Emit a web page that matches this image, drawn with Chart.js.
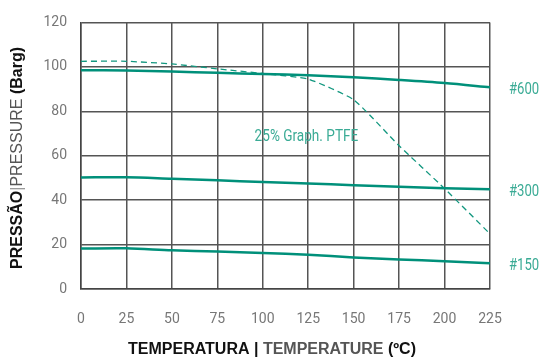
<!DOCTYPE html>
<html>
<head>
<meta charset="utf-8">
<script src="https://cdn.jsdelivr.net/npm/chart.js@4"></script>
<style>
  html, body { margin: 0; padding: 0; background: #fff; }
  #wrap { width: 541px; height: 358px; }
</style>
</head>
<body>
<div id="wrap"><canvas id="myChart" width="541" height="358"></canvas></div>
<script>
// temperatures (ºC) and pressures (Barg)
var temps = [0, 25, 50, 75, 100, 125, 150, 175, 200, 225];
var class600 = [98.5, 98.4, 97.9, 97.3, 96.8, 96.2, 95.3, 94.1, 92.7, 90.8];
var class300 = [50.2, 50.3, 49.6, 48.9, 48.2, 47.5, 46.7, 46.0, 45.3, 44.9];
var class150 = [18.2, 18.3, 17.4, 16.9, 16.2, 15.4, 14.2, 13.3, 12.5, 11.6];
var ptfe = [102.5, 102.5, 101.3, 99.1, 97.0, 94.5, 85.2, 64.5, 45.2, 24.8];
var seriesLabels = ["#600", "#300", "#150"];
var ptfeLabel = "25% Graph. PTFE";
var yTicks = [0, 20, 40, 60, 80, 100, 120];

var lineColor = "#00907a";
var labelColor = "#3aab95";
var tickFont = "Roboto, sans-serif";

function pts(vals) {
    return temps.map(function (t, i) { return { x: t, y: vals[i] }; });
}

// text drawn squeezed sideways, to look like the condensed face of the original
function narrowText(ctx, text, x, y, squeeze) {
    ctx.save();
    ctx.translate(x, y);
    ctx.scale(squeeze, 1);
    ctx.fillText(text, 0, 0);
    ctx.restore();
}

function drawParts(ctx, parts, x, y) {
    var total = 0;
    parts.forEach(function (p) {
        ctx.font = p.font;
        total += ctx.measureText(p.text).width;
    });
    var cx = x - total / 2;
    parts.forEach(function (p) {
        ctx.font = p.font;
        ctx.fillStyle = p.color;
        ctx.fillText(p.text, cx, y);
        cx += ctx.measureText(p.text).width;
    });
}

var labelsPlugin = {
    id: "labels",
    afterDraw: function (chart) {
        var ctx = chart.ctx;
        var xs = chart.scales.x, ys = chart.scales.y;
        ctx.save();
        ctx.textBaseline = "middle";
        ctx.textAlign = "left";
        // class labels at the right end of each line
        ctx.font = "16px Roboto, sans-serif";
        ctx.fillStyle = labelColor;
        var ends = [class600, class300, class150];
        ends.forEach(function (vals, i) {
            var y = ys.getPixelForValue(vals[vals.length - 1]);
            narrowText(ctx, seriesLabels[i], xs.right + 19, y + 3, 0.82);
        });
        narrowText(ctx, ptfeLabel, xs.getPixelForValue(95.5), ys.getPixelForValue(68.3), 0.85);

        // axis titles
        var boldF = "bold 16px 'Liberation Sans', Arial, sans-serif";
        var normF = "16px 'Liberation Sans', Arial, sans-serif";
        drawParts(ctx, [
            { text: "TEMPERATURA | ", font: boldF, color: "#111" },
            { text: "TEMPERATURE", font: boldF, color: "#555" },
            { text: " (ºC)", font: boldF, color: "#111" }
        ], 272, 350);

        ctx.translate(18, 158);
        ctx.rotate(-Math.PI / 2);
        drawParts(ctx, [
            { text: "PRESSÃO", font: boldF, color: "#111" },
            { text: "|", font: normF, color: "#999" },
            { text: "PRESSURE", font: normF, color: "#555" },
            { text: " (Barg)", font: boldF, color: "#111" }
        ], 0, 0);
        ctx.restore();
    }
};

var chart = new Chart("myChart", {
    type: "line",
    data: {
        datasets: [
            { data: pts(class600), borderColor: lineColor, borderWidth: 2.5, pointRadius: 0, tension: 0.3 },
            { data: pts(class300), borderColor: lineColor, borderWidth: 2.5, pointRadius: 0, tension: 0.3 },
            { data: pts(class150), borderColor: lineColor, borderWidth: 2.5, pointRadius: 0, tension: 0.3 },
            { data: pts(ptfe), borderColor: "#12977f", borderWidth: 1.3, borderDash: [6, 4], pointRadius: 0, tension: 0.15 }
        ]
    },
    options: {
        responsive: false,
        animation: false,
        layout: { padding: { top: 17, right: 51, left: 0, bottom: 0 } },
        plugins: { legend: { display: false }, tooltip: { enabled: false } },
        scales: {
            x: {
                type: "linear",
                min: 0, max: 225,
                afterBuildTicks: function (s) { s.ticks = temps.map(function (v) { return { value: v }; }); },
                afterFit: function (s) { s.height = 69; },
                grid: { color: "#555", lineWidth: 1.5, drawTicks: false },
                border: { color: "#444", width: 1.5 },
                ticks: { color: "#777", padding: 22, font: { family: tickFont, size: 14 } }
            },
            y: {
                min: 0, max: 120,
                afterBuildTicks: function (s) { s.ticks = yTicks.map(function (v) { return { value: v }; }); },
                afterFit: function (s) { s.width = 81; },
                grid: { color: "#555", lineWidth: 1.5, drawTicks: false },
                border: { color: "#444", width: 1.5 },
                ticks: { color: "#777", padding: 14, font: { family: tickFont, size: 14 } }
            }
        }
    },
    plugins: [labelsPlugin]
});
</script>
</body>
</html>
